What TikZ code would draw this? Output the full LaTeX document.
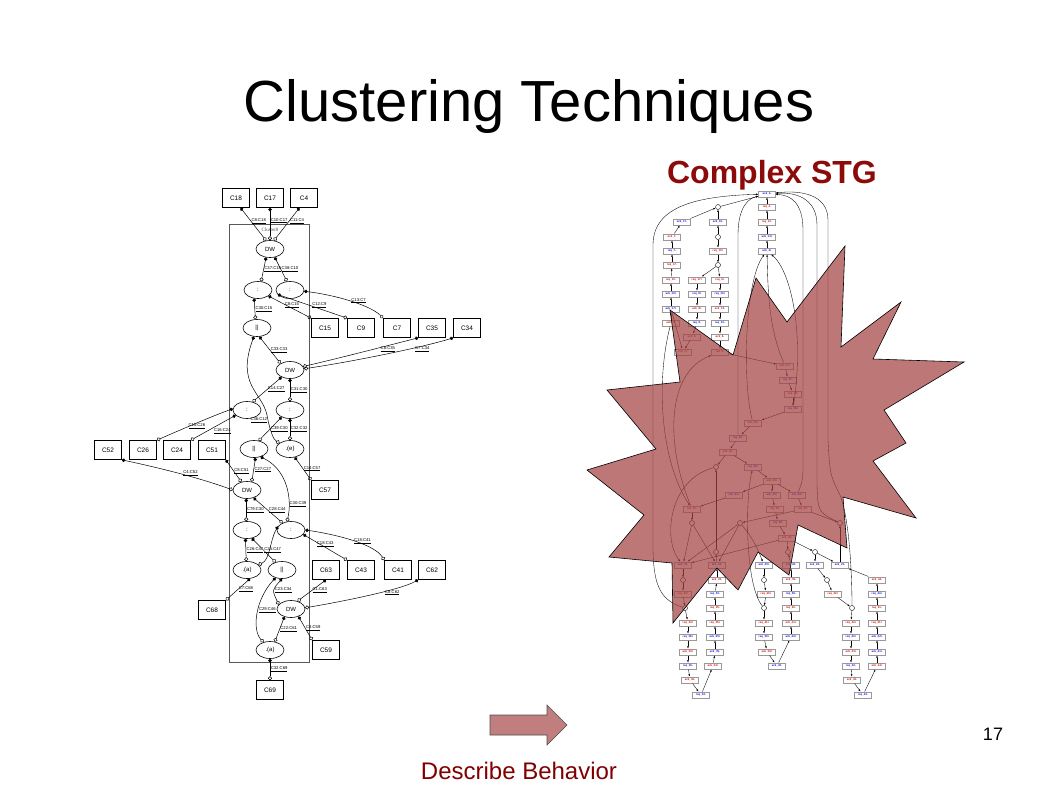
\documentclass[tikz,border=0pt]{standalone}
\usepackage{fontspec}
\setmainfont{Liberation Sans}
\newfontfamily\serifc{Liberation Serif}
\usetikzlibrary{shapes.geometric,arrows.meta}
\definecolor{dred}{RGB}{128,0,0}
\definecolor{tred}{RGB}{140,10,10}
\definecolor{starc}{RGB}{164,66,66}
\definecolor{arrc}{RGB}{192,126,126}
\definecolor{sblue}{RGB}{20,20,230}
\definecolor{sred}{RGB}{215,15,15}
\begin{document}
\begin{tikzpicture}[x=1pt,y=-1pt,
  cbox/.style={draw, line width=0.7pt, minimum width=27pt, minimum height=19pt, inner sep=0pt, font=\fontsize{6.5}{6.5}\selectfont},
  cell/.style={ellipse, draw, line width=0.6pt, minimum width=28pt, minimum height=17pt, inner sep=0pt, font=\fontsize{6}{6}\selectfont},
  lk/.style={line width=0.5pt, {Circle[length=3.5pt]}-{Circle[open,length=4pt]}},
  elab/.style={font=\fontsize{4.2}{4.2}\selectfont, inner sep=0.6pt},
  sb/.style={draw=gray!80, line width=0.5pt, fill=white, minimum width=17pt, minimum height=6.5pt, inner sep=0pt, font=\bfseries\fontsize{2.8}{2.8}\selectfont, text=sblue},
  sr/.style={sb, text=sred},
  pl/.style={circle, draw, fill=white, minimum size=5pt, inner sep=0pt, line width=0.4pt},
  pm/.style={pl, path picture={\fill (path picture bounding box.center) circle (1.2pt);}},
  sa/.style={-{Latex[length=2.2pt,width=1.8pt]}, line width=0.35pt}
]
\useasboundingbox (0,0) rectangle (1058,793);

% ---------- titles ----------
\node[anchor=base, font=\fontsize{58}{58}\selectfont] (title) at (529,121) {Clustering Techniques};
\node[anchor=base, text=tred, font=\bfseries\fontsize{32}{32}\selectfont] (stgtitle) at (772,183) {Complex STG};
\node[anchor=base, text=dred, font=\fontsize{24}{24}\selectfont] (desc) at (519,779) {Describe Behavior};
\node[anchor=base, font=\fontsize{18}{18}\selectfont] (pnum) at (993,740) {17};
\filldraw[fill=arrc, draw=black!70, line width=0.6pt] (490,715) -- (547,715) -- (547,705) -- (567,725) -- (547,745) -- (547,735) -- (490,735) -- cycle;

% ---------- left: clustered graph ----------
\draw[gray!70!black, line width=0.8pt] (229,224) rectangle (309,662);
\node[font=\serifc\fontsize{5}{5}\selectfont, text=gray!60!black] (clab) at (270,230) {Cluster0};

\foreach \n/\x/\y in {C18/236/198, C17/270/198, C4/304/198,
  C15/325/328, C9/361/328, C7/397/328, C35/432/328, C34/467/328,
  C52/108/450, C26/143/450, C24/177/450, C51/212/450, C57/325/490,
  C63/326/570, C43/361/570, C41/398/570, C62/432/570,
  C68/212/610, C59/326/650, C69/270/690}
  \node[cbox] (\n) at (\x,\y) {\n};

\node[cell] (DWa) at (270,249) {DW};
\node[cell] (Sa) at (258,290) {:};
\node[cell] (Sb) at (290,290) {:};
\node[cell] (Pa) at (257,328) {||};
\node[cell] (DWb) at (290,370) {DW};
\node[cell] (Sc) at (247,410) {:};
\node[cell] (Sd) at (290,410) {:};
\node[cell] (Pb) at (254,449) {||};
\node[cell] (Ea) at (290,449) {.(e)};
\node[cell] (DWc) at (247,490) {DW};
\node[cell] (Se) at (247,530) {:};
\node[cell] (Sf) at (291,530) {:};
\node[cell] (Aa) at (247,570) {.(a)};
\node[cell] (Pc) at (282,570) {||};
\node[cell] (DWd) at (291,609) {DW};
\node[cell] (Ab) at (270,650) {.(a)};

\draw[lk] (C18.-65) -- node[elab,pos=.4,right]{\underline{C8:C18}} (DWa.115);
\draw[lk] (C17.south) -- node[elab,pos=.4,right]{\underline{C10:C17}} (DWa.north);
\draw[lk] (C4.-115) -- node[elab,pos=.4,right]{\underline{C11:C4}} (DWa.65);
\draw[lk] (DWa.-115) -- node[elab,pos=.5,right]{\underline{C37:C18}} (Sa.70);
\draw[lk] (DWa.-60) -- node[elab,pos=.5,right]{\underline{C38:C10}} (Sb.110);
\draw[lk] (Sa.-115) -- node[elab,pos=.5,right]{\underline{C30:C15}} (Pa.100);
\draw[lk] (Sa.-30) -- node[elab,pos=.55,above]{\underline{C8:C15}} (C15.north west);
\draw[lk] (Sb.-160) -- node[elab,pos=.6,above]{\underline{C12:C9}} (C9.north west);
\draw[lk] (Sb.-5) .. controls (335,295) and (370,305) .. node[elab,pos=.6,above]{\underline{C13:C7}} (C7.north west);
\draw[lk] (Pa.-75) -- node[elab,pos=.5,right]{\underline{C33:C33}} (DWb.145);
\draw[lk] (C35.south west) .. controls (390,345) and (340,358) .. node[elab,pos=.3,below]{\underline{C8:C35}} (DWb.15);
\draw[lk] (C34.south west) .. controls (420,348) and (350,362) .. node[elab,pos=.25,below]{\underline{C7:C34}} (DWb.5);
\draw[lk] (Pa.-110) .. controls (236,385) and (262,392) .. (267,415) .. controls (270,432) and (274,440) .. node[elab,pos=.1,left]{\underline{C36:C12}} (Ea.150);
\draw[lk] (DWb.-140) -- node[elab,pos=.5,right]{\underline{C14:C27}} (Sc.55);
\draw[lk] (DWb.-90) -- node[elab,pos=.5,right]{\underline{C31:C30}} (Sd.90);
\draw[lk] (Sc.175) .. controls (215,415) and (180,430) .. node[elab,pos=.5,below]{\underline{C15:C26}} (C26.north east);
\draw[lk] (Sc.-155) -- node[elab,pos=.5,below right]{\underline{C16:C24}} (C24.north east);
\draw[lk] (Sd.-140) -- node[elab,pos=.5,right]{\underline{C39:C30}} (Pb.60);
\draw[lk] (Sd.-90) -- node[elab,pos=.5,right]{\underline{C32:C32}} (Ea.90);
\draw[lk] (Ea.-60) -- node[elab,pos=.5,right]{\underline{C14:C57}} (C57.north west);
\draw[lk] (Pb.-80) -- node[elab,pos=.5,right]{\underline{C27:C27}} (DWc.60);
\draw[lk] (C51.south east) -- node[elab,pos=.5,right]{\underline{C8:C51}} (DWc.125);
\draw[lk] (C52.south east) .. controls (160,468) and (200,478) .. node[elab,pos=.6,above]{\underline{C4:C52}} (DWc.west);
\draw[lk] (Pb.-50) .. controls (288,470) and (292,500) .. node[elab,pos=.75,right]{\underline{C30:C39}} (Sf.115);
\draw[lk] (DWc.-95) -- node[elab,pos=.5,right]{\underline{C79:C30}} (Se.95);
\draw[lk] (DWc.-50) -- node[elab,pos=.5,right]{\underline{C28:C44}} (Sf.140);
\draw[lk] (Se.-100) -- node[elab,pos=.5,right]{\underline{C26:C47}} (Aa.95);
\draw[lk] (Se.-60) -- node[elab,pos=.5,right]{\underline{C25:C47}} (Pc.130);
\draw[lk] (Sf.165) .. controls (270,540) and (270,560) .. (Aa.25);
\draw[lk] (Sf.-20) -- node[elab,pos=.5,above]{\underline{C18:C43}} (C43.north west);
\draw[lk] (Sf.0) .. controls (340,535) and (375,545) .. node[elab,pos=.6,above]{\underline{C18:C41}} (C41.north west);
\draw[lk] (Aa.-70) -- node[elab,pos=.5,right]{\underline{C7:C68}} (C68.north east);
\draw[lk] (Pc.-90) .. controls (272,590) .. node[elab,pos=.5,right]{\underline{C23:C34}} (DWd.160);
\draw[lk] (Pc.-130) .. controls (255,600) and (252,630) .. node[elab,pos=.45,right]{\underline{C29:C46}} (Ab.130);
\draw[lk] (C63.south) -- node[elab,pos=.5,right]{\underline{C1:C63}} (DWd.50);
\draw[lk] (C62.south west) .. controls (400,590) and (340,602) .. node[elab,pos=.3,below]{\underline{C8:C62}} (DWd.5);
\draw[lk] (DWd.-130) -- node[elab,pos=.5,right]{\underline{C22:C61}} (Ab.60);
\draw[lk] (DWd.-45) -- node[elab,pos=.5,right]{\underline{C3:C59}} (C59.north west);
\draw[lk] (Ab.south) -- node[elab,pos=.5,right]{\underline{C32:C69}} (C69.north);

% ---------- right: STG ----------
\foreach \n/\x/\y/\t in {s1/767/194/ack\_4-, s4/767/237/ack\_13+, s5/767/251/ack\_4+, s6/718/222/ack\_10-,
  s8/682/222/ack\_17-, s10/672/251/req\_7-, s13/671/294/ack\_10+, s14/671/309/ack\_17+, s17/697/294/req\_8+,
  s19/697/323/req\_8-, s23/720/294/req\_13+, s25/720/323/req\_13-, s29/788/380/req\_27-, s31/793/409/req\_28+,
  s33/738/438/req\_28-, s35/753/467/req\_29+, s37/734/495/ack\_31+, s38/772/495/ack\_30+, s39/797/495/ack\_32+,
  s43/778/523/req\_29-, s45/683/565/ack\_31-, s48/688/637/req\_36+, s50/688/666/req\_36-, s52/701/695/req\_34-,
  s53/717/565/ack\_34-, s55/715/594/req\_33-, s58/715/637/ack\_35+, s59/715/652/ack\_35-, s61/764/565/ack\_40+,
  s64/764/637/req\_39+, s66/777/666/ack\_40-, s67/791/565/ack\_42-, s69/791/594/req\_39-, s72/791/637/ack\_42+,
  s73/815/565/ack\_22-, s76/851/637/req\_43+, s78/851/666/req\_43-, s80/863/695/req\_44-, s81/840/565/ack\_21-,
  s83/877/594/req\_44+, s86/877/637/ack\_22+, s87/877/652/ack\_21+}
  \node[sb] (\n) at (\x,\y) {\t};
\foreach \n/\x/\y/\t in {s2/767/207/req\_4-, s3/767/222/req\_13-, s7/718/251/req\_10+, s9/672/237/ack\_7-,
  s11/672/265/req\_17-, s12/671/280/req\_10-, s15/671/323/ack\_7+, s16/697/280/req\_17+, s18/697/309/ack\_8+,
  s20/692/337/ack\_8-, s21/683/352/req\_7+, s22/720/280/req\_6+, s24/720/309/ack\_13-, s26/720/337/ack\_6-,
  s27/720/352/req\_6-, s28/785/366/ack\_27+, s30/793/394/ack\_27-, s32/753/423/ack\_28+, s34/728/452/ack\_28-,
  s36/772/481/ack\_29+, s40/692/509/req\_31-, s41/775/509/req\_30-, s42/803/509/req\_32-, s44/787/538/ack\_29-,
  s46/683/594/req\_33+, s47/688/623/req\_34+, s49/688/652/ack\_36+, s51/690/680/ack\_36-, s54/717/580/ack\_33-,
  s56/715/608/req\_35-, s57/715/623/req\_35+, s60/713/666/ack\_34+, s62/766/594/req\_40+, s63/764/623/req\_41+,
  s65/767/652/ack\_39+, s68/791/580/ack\_39-, s70/791/608/req\_42-, s71/791/623/ack\_41+, s74/833/594/req\_22+,
  s75/851/623/req\_44+, s77/851/652/ack\_43+, s79/852/680/ack\_43-, s82/877/580/ack\_44-, s84/877/608/req\_21-,
  s85/877/623/req\_21+, s88/877/666/ack\_44+}
  \node[sr] (\n) at (\x,\y) {\t};
\foreach \n/\x/\y in {c1/718/207, c3/718/265, c4/716/467, c5/692/523, c6/740/523, c7/840/523, c8/716/552,
  c9/788/552, c10/815/552, c13/764/608, c15/852/608, c16/685/608}
  \node[pl] (\n) at (\x,\y) {};
\foreach \n/\x/\y in {c2/718/237, c11/683/580, c12/764/580, c14/827/580}
  \node[pm] (\n) at (\x,\y) {};

\foreach \a/\b in {s5/s4, s4/s3, s3/s2, s2/s1, c1/s1, s6/c1, s8/c1, c2/s6, c2/s7, s7/c3, c3/s16, c3/s22,
  s15/s14, s14/s13, s13/s12, s12/s11, s11/s10, s10/s9, s9/s8, s14/s21,
  s16/s17, s17/s18, s18/s19, s19/s20, s20/s21,
  s22/s23, s23/s24, s24/s25, s25/s26, s26/s27, s27/s28,
  s28/s29, s29/s30, s30/s31, s31/s32, s32/s33, s33/s34, s34/c4, s34/s35, s35/s36, s36/s37, s36/s38, s36/s39,
  s37/s40, s38/s41, s39/s42, s40/c5, s41/s43, s43/s44, s42/c6, s42/c7, s44/c9, s44/c10, s44/s45,
  c5/s45, c5/s53, c6/s45, c6/s53, c8/c4, s53/c8, s67/c9, c10/s73, c10/s81, s81/c7, s82/s81,
  s45/c11, c11/s46, s46/c16, c16/s47, s47/s48, s48/s49, s49/s50, s50/s51, s51/s52, s52/s60,
  s60/s59, s59/s58, s58/s57, s57/s56, s56/s55, s55/s54, s54/s53,
  s61/c12, c12/s62, s62/c13, c13/s63, s63/s64, s64/s65, s65/s66, s66/s72,
  s72/s71, s71/s70, s70/s69, s69/s68, s68/s67,
  s73/c14, c14/s74, s74/c15, c15/s75, s75/s76, s76/s77, s77/s78, s78/s79, s79/s80, s80/s88,
  s88/s87, s87/s86, s86/s85, s85/s84, s84/s83, s83/s82}
  \draw[sa] (\a) -- (\b);

% long arcs
\draw[sa] (c16) .. controls (660,600) and (653,585) .. (653,545) -- (653,245) .. controls (653,205) and (700,196) .. (s1);
\draw[sa] (s33) .. controls (738,410) .. (738,380) -- (738,235) .. controls (738,205) and (750,198) .. (s1);
\draw[sa] (s39) .. controls (803,480) .. (803,460) -- (803,230) .. controls (803,202) and (790,195) .. (s1);
\draw[sa] (c7) .. controls (818,512) .. (817,485) -- (817,225) .. controls (817,198) and (795,192) .. (s1);
\draw[sa] (c15) .. controls (852,580) and (850,520) .. (840,495) .. controls (830,475) .. (828,440) -- (828,220) .. controls (828,194) and (800,190) .. (s1);
\draw[sa] (s28) .. controls (770,330) and (768,300) .. (s5);
\draw[sa] (s31) .. controls (805,330) and (790,270) .. (s5);
\draw[sa] (s32) .. controls (742,380) and (745,280) .. (s5);
\draw[sa] (c4) .. controls (668,480) and (663,540) .. (s45);
\draw[sa] (c13) .. controls (745,585) and (745,500) .. (s35);
\draw[sa] (s15) .. controls (656,380) and (660,460) .. (s40);
\draw[sa] (s40) .. controls (664,440) and (668,372) .. (s27);
\draw[sa] (c6) .. controls (755,540) and (760,555) .. (s61);

% burst overlay
\filldraw[fill=starc, fill opacity=0.72, draw=black, line width=0.6pt]
  (756,278) -- (787,322) -- (845,246) -- (841,347) -- (901,302) -- (873,359) -- (964,362) -- (884,410)
  -- (906,443) -- (873,461) -- (916,518) -- (843,497) -- (847,548) -- (798,525) -- (789,575) -- (758,552)
  -- (738,590) -- (717,568) -- (673,623) -- (672,563) -- (609,557) -- (644,515) -- (587,470) -- (656,449)
  -- (607,390) -- (680,382) -- (670,310) -- (733,355) -- cycle;
\end{tikzpicture}
\end{document}
